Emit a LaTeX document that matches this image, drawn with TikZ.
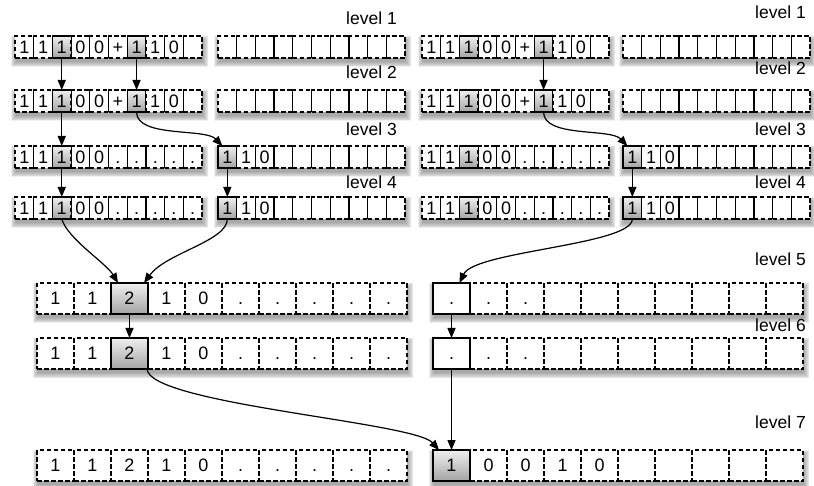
\documentclass[tikz,border=0pt]{standalone}
\usepackage{fontspec}
\setmainfont{Liberation Sans}
\usetikzlibrary{arrows.meta}
\newcommand\myarr[6]{%
  \pgfmathsetmacro\aw{10*#4}%
  \foreach \k in {0,...,6}{%
    \fill[black,opacity=0.055] ({#2+1-0.9*\k},{#3+4-0.7*\k}) rectangle ({#2+\aw+1+0.9*\k},{#3+#5+4+0.9*\k});}
  \fill[white] (#2,#3) rectangle ({#2+\aw},{#3+#5});
  \foreach \t/\s [count=\i from 0] in {#6}{%
    \node[cellbase, minimum width=#4pt, minimum height=#5pt, ac\s] (#1\i) at ({#2+(\i+0.5)*#4},{#3+#5/2}) {\t};}
}
\begin{document}
\begin{tikzpicture}[x=1pt,y=-1pt,
  cellbase/.style={inner sep=0pt, outer sep=0pt, text height=12.8pt, text depth=0pt, font=\fontsize{18}{18}\selectfont},
  acd/.style={draw, dash pattern=on 4.5pt off 2.5pt, line width=1.25pt},
  acg/.style={draw, solid, line width=1.1pt, top color=black!6, bottom color=black!36},
  acw/.style={draw, solid, line width=1.2pt, fill=white},
  arr/.style={-{Triangle[length=10pt,width=8pt]}, line width=1.2pt},
  lab/.style={anchor=east, inner sep=0pt, font=\fontsize{17.5}{17.5}\selectfont}]
\fill[white] (0,0) rectangle (814,486);
\useasboundingbox (0,0) rectangle (814,486);
% small rows
\myarr{r1La}{15}{36}{18.7}{22}{1/d,1/d,1/g,0/d,0/d,+/d,1/g,1/d,0/d, /d}
\myarr{r1Lb}{218}{36}{18.7}{22}{ /d, /d, /d, /d, /d, /d, /d, /d, /d, /d}
\myarr{r1Ra}{422}{36}{18.7}{22}{1/d,1/d,1/g,0/d,0/d,+/d,1/g,1/d,0/d, /d}
\myarr{r1Rb}{623}{36}{18.7}{22}{ /d, /d, /d, /d, /d, /d, /d, /d, /d, /d}
\myarr{r2La}{15}{90}{18.7}{22}{1/d,1/d,1/g,0/d,0/d,+/d,1/g,1/d,0/d, /d}
\myarr{r2Lb}{218}{90}{18.7}{22}{ /d, /d, /d, /d, /d, /d, /d, /d, /d, /d}
\myarr{r2Ra}{422}{90}{18.7}{22}{1/d,1/d,1/g,0/d,0/d,+/d,1/g,1/d,0/d, /d}
\myarr{r2Rb}{623}{90}{18.7}{22}{ /d, /d, /d, /d, /d, /d, /d, /d, /d, /d}
\myarr{r3La}{15}{146}{18.7}{22}{1/d,1/d,1/g,0/d,0/d,./d,./d,./d,./d,./d}
\myarr{r3Lb}{218}{146}{18.7}{22}{1/g,1/d,0/d, /d, /d, /d, /d, /d, /d, /d}
\myarr{r3Ra}{422}{146}{18.7}{22}{1/d,1/d,1/g,0/d,0/d,./d,./d,./d,./d,./d}
\myarr{r3Rb}{623}{146}{18.7}{22}{1/g,1/d,0/d, /d, /d, /d, /d, /d, /d, /d}
\myarr{r4La}{15}{197}{18.7}{22}{1/d,1/d,1/g,0/d,0/d,./d,./d,./d,./d,./d}
\myarr{r4Lb}{218}{197}{18.7}{22}{1/g,1/d,0/d, /d, /d, /d, /d, /d, /d, /d}
\myarr{r4Ra}{422}{197}{18.7}{22}{1/d,1/d,1/g,0/d,0/d,./d,./d,./d,./d,./d}
\myarr{r4Rb}{623}{197}{18.7}{22}{1/g,1/d,0/d, /d, /d, /d, /d, /d, /d, /d}
% big rows
\myarr{r5L}{37}{283}{37}{31}{1/d,1/d,2/g,1/d,0/d,./d,./d,./d,./d,./d}
\myarr{r5R}{433}{283}{37}{31}{./w,./d,./d, /d, /d, /d, /d, /d, /d, /d}
\myarr{r6L}{37}{338}{37}{31}{1/d,1/d,2/g,1/d,0/d,./d,./d,./d,./d,./d}
\myarr{r6R}{433}{338}{37}{31}{./w,./d,./d, /d, /d, /d, /d, /d, /d, /d}
\myarr{r7L}{37}{450}{37}{31}{1/d,1/d,2/d,1/d,0/d,./d,./d,./d,./d,./d}
\myarr{r7R}{433}{450}{37}{31}{1/g,0/d,0/d,1/d,0/d, /d, /d, /d, /d, /d}
% labels
\node[lab] (l1L) at (397,18) {level 1};
\node[lab] (l2L) at (397,72) {level 2};
\node[lab] (l3L) at (397,129) {level 3};
\node[lab] (l4L) at (397,182) {level 4};
\node[lab] (l1R) at (806,12) {level 1};
\node[lab] (l2R) at (806,68) {level 2};
\node[lab] (l3R) at (806,129) {level 3};
\node[lab] (l4R) at (806,182) {level 4};
\node[lab] (l5R) at (806,259) {level 5};
\node[lab] (l6R) at (806,325) {level 6};
\node[lab] (l7R) at (806,422) {level 7};
% left arrows
\draw[arr] (r1La2.south) -- (r2La2.north);
\draw[arr] (r1La6.south) -- (r2La6.north);
\draw[arr] (r2La2.south) -- (r3La2.north);
\draw[arr] (r2La6.south) .. controls +(0,26) and +(-17,-18) .. ([xshift=-5pt]r3Lb0.north);
\draw[arr] (r3La2.south) -- (r4La2.north);
\draw[arr] (r3Lb0.south) -- (r4Lb0.north);
\draw[arr] (r4La2.south) .. controls +(6,20) and +(-12,-20) .. ([xshift=7pt]r5L2.north west);
\draw[arr] (r4Lb0.south) .. controls +(0,22) and +(22,-30) .. ([xshift=-4pt]r5L2.north east);
\draw[arr] (r5L2.south) -- (r6L2.north);
\draw[arr] ([xshift=-1pt]r6L2.south east) .. controls +(2,35) and +(-25,-28) .. ([xshift=6pt]r7R0.north west);
% right arrows
\draw[arr] (r1Ra6.south) -- (r2Ra6.north);
\draw[arr] (r2Ra6.south) .. controls +(0,26) and +(-17,-18) .. ([xshift=-5pt]r3Rb0.north);
\draw[arr] (r3Rb0.south) -- (r4Rb0.north);
\draw[arr] (r4Rb0.south) .. controls +(0,26) and +(15,-32) .. ([xshift=8pt]r5R0.north);
\draw[arr] (r5R0.south) -- (r6R0.north);
\draw[arr] (r6R0.south) -- (r7R0.north);
\end{tikzpicture}
\end{document}
